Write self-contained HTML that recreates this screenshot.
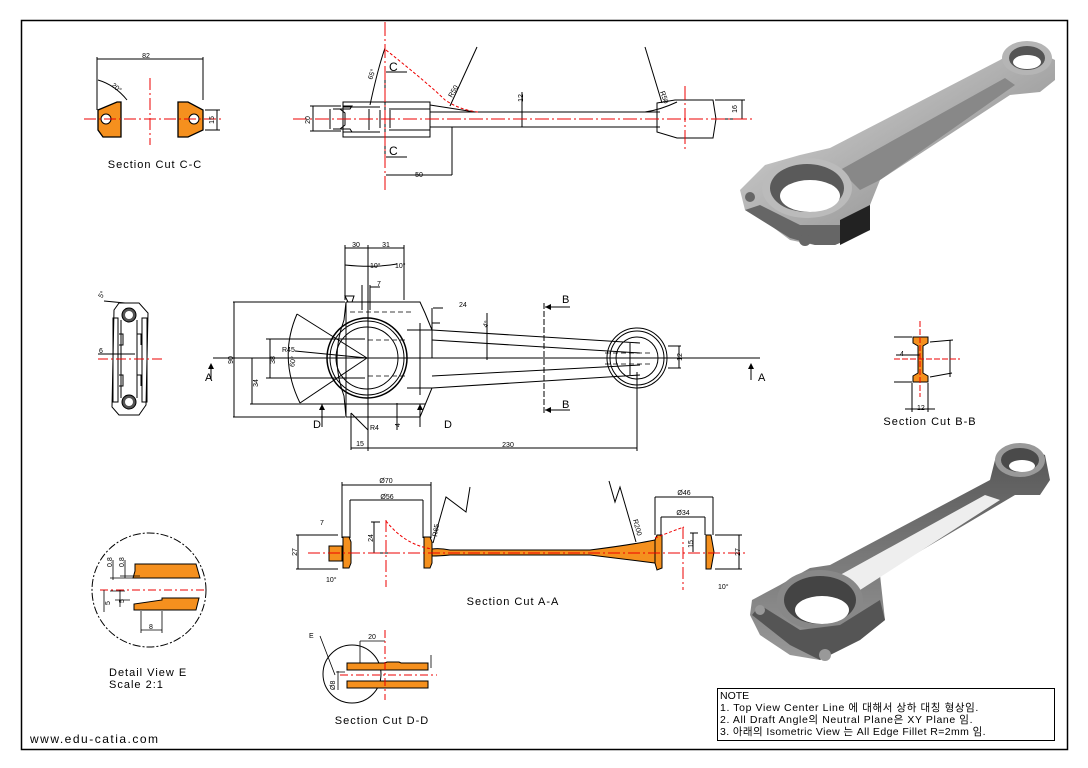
<!DOCTYPE html>
<html><head><meta charset="utf-8"><style>
body{margin:0;background:#fff}
svg{display:block}
text{font-family:"Liberation Sans","Noto Sans CJK KR",sans-serif}
</style></head><body>
<svg width="1088" height="768" viewBox="0 0 1088 768" xmlns="http://www.w3.org/2000/svg">
<defs>
<linearGradient id="g1" x1="0" y1="0" x2="1" y2="1"><stop offset="0" stop-color="#e2e2e2"/><stop offset="1" stop-color="#7a7a7a"/></linearGradient>
<linearGradient id="g2" x1="0" y1="0" x2="0" y2="1"><stop offset="0" stop-color="#555"/><stop offset="1" stop-color="#999"/></linearGradient>
</defs>
<rect x="0" y="0" width="1088" height="768" fill="#fff"/>
<rect x="21.5" y="20.5" width="1046" height="729" fill="none" stroke="#000" stroke-width="1.5"/>

<g stroke="#000" stroke-width="1" fill="none">
<line x1="97" y1="57" x2="97" y2="110"/><line x1="203" y1="57" x2="203" y2="100"/>
<line x1="97" y1="59" x2="203" y2="59"/>
<path d="M98 80 Q115 85 127 100"/>
<line x1="205" y1="110" x2="220" y2="110"/><line x1="205" y1="130" x2="220" y2="130"/><line x1="217" y1="110" x2="217" y2="130"/>
<path d="M98 110 L117 102 L121 102 L121 137 L103 137 L98 130 Z" fill="#f5901e" stroke-width="1.3"/>
<path d="M178 102 L188 102 L203 110 L203 130 L188 137 L178 137 Z" fill="#f5901e" stroke-width="1.3"/>
<circle cx="106" cy="119" r="5" fill="#fff"/><circle cx="194" cy="119" r="5" fill="#fff"/>
</g>
<g stroke="#e00" stroke-width="1" stroke-dasharray="12,3,2,3">
<line x1="84" y1="119" x2="224" y2="119"/><line x1="150" y1="78" x2="150" y2="145"/>
</g>
<text x="146" y="58" font-size="7" text-anchor="middle">82</text>
<text x="111" y="86" font-size="7" transform="rotate(40 111 86)">20°</text>
<text x="214" y="120" font-size="7" transform="rotate(-90 214 120)" text-anchor="middle">15</text>
<text x="155" y="168" font-size="11" text-anchor="middle" letter-spacing="1">Section Cut C-C</text>

<g stroke="#000" stroke-width="1" fill="none">
<rect x="343" y="102" width="87" height="35"/>
<path d="M343 107 H380 M343 132 H380 M333 109 H350 L352 106 H343 M333 129 H350 L352 132"/>
<path d="M330 109 V129 M340 109 L345 113 L345 125 L340 129 M380 110 V128 M390 110 V128 M369 109 V130 M389 109 H430 M389 130 H430"/>
<path d="M430 112 Q445 112 478 112 L660 112 M430 127 Q445 127 478 127 L660 127"/>
<path d="M430 105 L475 112"/>
<path d="M657 103 L675 100 L713 100 L716 119 L713 138 L677 138 L657 132 Z"/>
<path d="M645 112 Q660 110 677 102"/>
<line x1="310" y1="106" x2="341" y2="106"/><line x1="310" y1="131" x2="341" y2="131"/><line x1="313" y1="106" x2="313" y2="131"/>
<line x1="385" y1="69" x2="385" y2="165"/>
<line x1="386" y1="72" x2="407" y2="72"/><line x1="386" y1="157" x2="407" y2="157"/>
<line x1="452" y1="127" x2="452" y2="175"/><line x1="386" y1="175" x2="452" y2="175"/>
<line x1="522" y1="92" x2="522" y2="127"/>
<path d="M370 105 Q378 68 385 48"/>
<line x1="450" y1="106" x2="477" y2="47"/>
<line x1="645" y1="47" x2="662" y2="103"/>
<line x1="715" y1="100" x2="745" y2="100"/><line x1="715" y1="119" x2="745" y2="119"/><line x1="742" y1="100" x2="742" y2="119"/>
</g>
<path d="M386 50 Q430 85 445 100 Q460 110 478 112" stroke="#e00" fill="none" stroke-dasharray="3,2"/>
<g stroke="#e00" stroke-width="1" stroke-dasharray="14,3,2,3">
<line x1="293" y1="119" x2="755" y2="119"/><line x1="385" y1="22" x2="385" y2="192"/><line x1="685" y1="86" x2="685" y2="150"/>
</g>
<text x="389" y="71" font-size="12">C</text><text x="389" y="155" font-size="12">C</text>
<text x="419" y="177" font-size="7" text-anchor="middle">50</text>
<text x="310" y="120" font-size="7" transform="rotate(-90 310 120)" text-anchor="middle">20</text>
<text x="523" y="98" font-size="7" transform="rotate(-90 523 98)" text-anchor="middle">12</text>
<text x="737" y="109" font-size="7" transform="rotate(-90 737 109)" text-anchor="middle">16</text>
<text x="372" y="80" font-size="7" transform="rotate(-70 372 80)">65°</text>
<text x="452" y="98" font-size="7" transform="rotate(-60 452 98)">R50</text>
<text x="660" y="92" font-size="7" transform="rotate(70 660 92)">R50</text>

<g stroke="#000" stroke-width="1" fill="none">
<path d="M348 302 L352 302 L354 296 L345 296 L348 302"/>
<path d="M346 302 H420 L425 313 L432 330 L407 330 M346 302 L344 320 Q330 358 344 396 L346 417 H420 L425 405 L432 388 L407 388"/>
<line x1="346" y1="302" x2="346" y2="417"/>
<circle cx="367" cy="358" r="40" stroke-width="1.5"/>
<circle cx="367" cy="358" r="37"/>
<circle cx="367" cy="358" r="31"/>
<path d="M432 330 L640 343 M432 340 L640 353 M432 376 L640 365 M432 388 L640 375"/>
<path d="M432 323 L440 323 M630 343 V375 M420 323 V395"/>
<circle cx="637" cy="358" r="30"/><circle cx="637" cy="358" r="27"/><circle cx="637" cy="358" r="21"/>
<line x1="345" y1="245" x2="345" y2="300"/><line x1="368" y1="245" x2="368" y2="300"/><line x1="404" y1="245" x2="404" y2="300"/>
<line x1="345" y1="248" x2="404" y2="248"/>
<path d="M345 265 Q375 268 397 264"/>
<line x1="362" y1="285" x2="362" y2="310"/><line x1="370" y1="285" x2="370" y2="310"/><line x1="370" y1="287" x2="380" y2="287"/>
<line x1="433" y1="308" x2="443" y2="308"/><line x1="432" y1="308" x2="432" y2="358"/>
<line x1="233" y1="302" x2="345" y2="302"/><line x1="233" y1="417" x2="345" y2="417"/><line x1="234" y1="302" x2="234" y2="417"/>
<line x1="266" y1="339" x2="365" y2="339"/><line x1="266" y1="378" x2="365" y2="378"/><line x1="270" y1="339" x2="270" y2="378"/>
<line x1="250" y1="404" x2="425" y2="404"/><line x1="252" y1="358" x2="252" y2="404"/>
<path d="M297 314 Q278 358 300 403"/>
<line x1="297" y1="314" x2="367" y2="358"/><line x1="300" y1="403" x2="367" y2="358"/>
<line x1="295" y1="351" x2="367" y2="358"/>
<line x1="351" y1="413" x2="368" y2="430"/><line x1="351" y1="413" x2="351" y2="450"/>
<line x1="351" y1="448" x2="637" y2="448"/><line x1="637" y1="372" x2="637" y2="451"/><line x1="368" y1="300" x2="368" y2="451"/>
<line x1="397" y1="403" x2="397" y2="430"/>
<line x1="487" y1="313" x2="487" y2="360"/>
<line x1="679" y1="346" x2="679" y2="368"/><line x1="668" y1="346" x2="681" y2="346"/><line x1="668" y1="368" x2="681" y2="368"/>
<path d="M544 303 V415" stroke-dasharray="6,2"/>
<path d="M545 307 H570 M545 410 H570 M322 404 V427 M420 404 V427 M211 380 V364 M751 380 V364"/>
</g>
<g stroke="#000" stroke-width="0.8" stroke-dasharray="5,3" fill="none"><path d="M350 312 H412 M350 404 H412 M368 340 H407 M368 376 H407 M605 353 H650 M605 364 H650"/></g>
<line x1="213" y1="358" x2="760" y2="358" stroke="#000" stroke-width="1"/>
<path d="M211 363 l-3 6 h6 z M751 363 l-3 6 h6 z M322 404 l-3 6 h6 z M420 404 l-3 6 h6 z M545 307 l6 -3 v6 z M545 410 l6 -3 v6 z"/>
<text x="205" y="381" font-size="11">A</text><text x="758" y="381" font-size="11">A</text>
<text x="562" y="303" font-size="11">B</text><text x="562" y="408" font-size="11">B</text>
<text x="313" y="428" font-size="11">D</text><text x="444" y="428" font-size="11">D</text>
<text x="356" y="247" font-size="7" text-anchor="middle">30</text><text x="386" y="247" font-size="7" text-anchor="middle">31</text>
<text x="370" y="268" font-size="7">10°</text><text x="395" y="268" font-size="7">10°</text>
<text x="377" y="286" font-size="7">7</text><text x="459" y="307" font-size="7">24</text>
<text x="282" y="352" font-size="7">R45</text><text x="487" y="328" font-size="7" transform="rotate(-70 487 328)">4°</text>
<text x="233" y="360" font-size="7" transform="rotate(-90 233 360)" text-anchor="middle">90</text>
<text x="275" y="360" font-size="7" transform="rotate(-90 275 360)" text-anchor="middle">38</text>
<text x="258" y="383" font-size="7" transform="rotate(-90 258 383)" text-anchor="middle">34</text>
<text x="295" y="362" font-size="7" transform="rotate(-80 295 362)" text-anchor="middle">60°</text>
<text x="360" y="446" font-size="7" text-anchor="middle">15</text><text x="508" y="447" font-size="7" text-anchor="middle">230</text>
<text x="370" y="430" font-size="7">R4</text><text x="400" y="427" font-size="7" transform="rotate(-90 400 427)">4</text>
<text x="682" y="357" font-size="7" transform="rotate(-90 682 357)" text-anchor="middle">12</text>

<g stroke="#000" stroke-width="1" fill="none">
<path d="M119 303 H139 L148 313 L146 405 L139 415 H119 L112 407 L114 310 Z"/>
<rect x="113" y="318" width="5" height="84"/><rect x="142" y="318" width="5" height="84"/>
<path d="M121 320 V398 M137 320 V398 M119 334 H123 V345 H119 M137 334 H141 V345 M119 375 H123 V386 H119 M137 375 H141 V386"/>
<line x1="98" y1="354" x2="135" y2="354"/>
<line x1="104" y1="301" x2="125" y2="303"/>
</g>
<circle cx="129" cy="315" r="7" fill="#555" stroke="#000"/><circle cx="129" cy="315" r="4" fill="#fff"/>
<circle cx="129" cy="402" r="7" fill="#555" stroke="#000"/><circle cx="129" cy="402" r="4" fill="#fff"/>
<line x1="98" y1="359" x2="162" y2="359" stroke="#e00" stroke-dasharray="10,3,2,3"/>
<text x="99" y="353" font-size="7">6</text><text x="100" y="295" font-size="7" transform="rotate(-60 104 295)">5°</text>

<g stroke="#000" stroke-width="1">
<path d="M913 337 H928 V343 L923 346 V373 L928 376 V382 H913 V376 L918 373 V346 L913 343 Z" fill="#f5901e"/>
<path d="M894 337 H912 M894 382 H912 M896 355 H920 M912 383 V412 M928 383 V412 M905 409 H935 M930 342 L953 340 M930 377 L952 373 M950 340 V377" fill="none"/>
</g>
<g stroke="#e00" stroke-dasharray="6,2"><line x1="920" y1="321" x2="920" y2="397"/><line x1="894" y1="359" x2="960" y2="359"/></g>
<text x="900" y="356" font-size="7">4</text><text x="917" y="410" font-size="7">12</text>
<text x="930" y="425" font-size="11" text-anchor="middle" letter-spacing="1">Section Cut B-B</text>

<g stroke="#000" stroke-width="1" fill="none">
<line x1="342" y1="482" x2="342" y2="538"/><line x1="431" y1="482" x2="431" y2="538"/><line x1="342" y1="485" x2="431" y2="485"/>
<line x1="350" y1="500" x2="350" y2="538"/><line x1="423" y1="500" x2="423" y2="538"/><line x1="350" y1="500" x2="423" y2="500"/>
<line x1="655" y1="497" x2="655" y2="535"/><line x1="713" y1="497" x2="713" y2="535"/><line x1="655" y1="497" x2="713" y2="497"/>
<line x1="661" y1="517" x2="661" y2="535"/><line x1="705" y1="517" x2="705" y2="535"/><line x1="661" y1="517" x2="705" y2="517"/>
<line x1="296" y1="535" x2="338" y2="535"/><line x1="296" y1="569" x2="338" y2="569"/><line x1="298" y1="535" x2="298" y2="569"/>
<line x1="371" y1="522" x2="380" y2="522"/><line x1="374" y1="522" x2="374" y2="553"/><line x1="371" y1="553" x2="400" y2="553"/>
<path d="M433 543 L446 497 L466 512 L470 487"/>
<path d="M636 542 L620 487 L615 502 L609 481"/>
<line x1="690" y1="533" x2="698" y2="533"/><line x1="693" y1="533" x2="693" y2="552"/>
<line x1="715" y1="535" x2="742" y2="535"/><line x1="715" y1="569" x2="742" y2="569"/><line x1="739" y1="535" x2="739" y2="569"/>
</g>
<g stroke="#000" stroke-width="1" fill="#f5901e">
<rect x="329" y="546" width="13" height="15"/>
<path d="M343 537 H349 L351 542 V563 L349 568 H343 Z"/>
<path d="M424 537 H430 L432 542 V563 L430 568 H424 Z"/>
<path d="M432 549 Q440 548 450 550 H590 Q630 545 655 540 L655 563 Q630 560 590 555 H450 Q440 556 432 556 Z"/>
<path d="M657 535 H662 V568 L657 570 L655 563 V540 Z"/>
<path d="M706 535 H711 L714 552 L711 569 H706 Z"/>
</g>
<path d="M386 521 Q405 545 432 549 M655 538 Q675 530 684 527" stroke="#e00" fill="none" stroke-dasharray="3,2"/>
<g stroke="#e00" stroke-dasharray="12,3,2,3"><line x1="308" y1="553" x2="745" y2="553"/><line x1="386" y1="520" x2="386" y2="587"/><line x1="683" y1="527" x2="683" y2="590"/></g>
<text x="386" y="483" font-size="7" text-anchor="middle">Ø70</text><text x="387" y="499" font-size="7" text-anchor="middle">Ø56</text>
<text x="684" y="495" font-size="7" text-anchor="middle">Ø46</text><text x="683" y="515" font-size="7" text-anchor="middle">Ø34</text>
<text x="297" y="552" font-size="7" transform="rotate(-90 297 552)" text-anchor="middle">27</text>
<text x="373" y="538" font-size="7" transform="rotate(-90 373 538)" text-anchor="middle">24</text>
<text x="693" y="544" font-size="7" transform="rotate(-90 693 544)" text-anchor="middle">15</text>
<text x="740" y="552" font-size="7" transform="rotate(-90 740 552)" text-anchor="middle">27</text>
<text x="437" y="537" font-size="7" transform="rotate(-80 437 537)">R65</text>
<text x="633" y="520" font-size="7" transform="rotate(75 633 520)">R200</text>
<text x="320" y="525" font-size="7">7</text><text x="326" y="582" font-size="7">10°</text><text x="718" y="589" font-size="7">10°</text>
<text x="513" y="605" font-size="11" text-anchor="middle" letter-spacing="1">Section Cut A-A</text>

<circle cx="149" cy="590" r="57" fill="none" stroke="#000" stroke-dasharray="8,2,2,2"/>
<g stroke="#000" stroke-width="1" fill="#f5901e">
<path d="M135 564 H196 L200 578 H133 L135 571 Z"/>
<path d="M134 610 H196 L199 598 H162 V600 L134 604 Z"/>
</g>
<line x1="100" y1="590" x2="207" y2="590" stroke="#e00" stroke-dasharray="8,3,2,3"/>
<g stroke="#000" stroke-width="0.8" fill="none">
<path d="M110 578 H150 M120 576 H140 M110 591 H125 M115 600 H130 M141 611 V633 M162 611 V633 M141 630 H162 M113 560 V580 M125 560 V578 M104 590 V612 M120 590 V607"/>
</g>
<text x="112" y="567" font-size="7" transform="rotate(-90 112 567)">0.8</text>
<text x="124" y="567" font-size="7" transform="rotate(-90 124 567)">0.8</text>
<text x="110" y="605" font-size="7" transform="rotate(-90 110 605)">5</text>
<text x="124" y="603" font-size="7" transform="rotate(-90 124 603)">5</text>
<text x="151" y="629" font-size="7" text-anchor="middle">8</text>
<text x="109" y="676" font-size="11" letter-spacing="1">Detail View E</text>
<text x="109" y="688" font-size="11" letter-spacing="1">Scale 2:1</text>

<circle cx="352" cy="674" r="29" fill="none" stroke="#000"/>
<g stroke="#000" stroke-width="1" fill="#f5901e">
<path d="M347 663 H385 L387 662 H399 L401 663 H428 V670 H347 Z"/>
<path d="M347 681 H428 V688 H347 Z"/>
</g>
<g stroke="#000" stroke-width="0.8" fill="none">
<path d="M360 641 V663 M360 641 H385 M338 671 V690 M336 672 H345 M335 675 L320 636 M431 655 V668"/>
</g>
<g stroke="#e00" stroke-dasharray="8,3,2,3"><line x1="340" y1="675" x2="437" y2="675"/><line x1="385" y1="630" x2="385" y2="700"/></g>
<text x="372" y="639" font-size="7" text-anchor="middle">20</text>
<text x="309" y="638" font-size="7">E</text>
<text x="335" y="690" font-size="7" transform="rotate(-90 335 690)">Ø8</text>
<text x="382" y="724" font-size="11" text-anchor="middle" letter-spacing="1">Section Cut D-D</text>

<text x="30" y="743" font-size="12" letter-spacing="1.5">www.edu-catia.com</text>

<rect x="717.5" y="688.5" width="337" height="52" fill="#fff" stroke="#000"/>
<text x="720" y="699" font-size="10.5">NOTE</text>
<text x="720" y="711" font-size="10.5" letter-spacing="0.6">1. Top View Center Line 에 대해서 상하 대칭 형상임.</text>
<text x="720" y="723" font-size="10.5" letter-spacing="0.6">2. All Draft Angle의 Neutral Plane은 XY Plane 임.</text>
<text x="720" y="735" font-size="10.5" letter-spacing="0.4">3. 아래의 Isometric View 는 All Edge Fillet R=2mm 임.</text>

<g>
<path d="M740 190 L765 165 L800 155 L830 148 L1000 60 L1025 45 L1055 60 L1055 80 L1040 92 L1010 95 L880 180 L870 205 L870 230 L835 245 L815 245 L790 240 L770 225 L745 210 Z" fill="url(#g1)"/>
<path d="M840 170 L1005 78 L1015 85 L880 180 L860 190 Z" fill="#888"/>
<ellipse cx="1027" cy="58" rx="25" ry="17" fill="#b5b5b5"/>
<ellipse cx="1027" cy="58" rx="18" ry="12" fill="#555"/>
<ellipse cx="1027" cy="62" rx="14" ry="7" fill="#fff"/>
<ellipse cx="807" cy="188" rx="45" ry="30" fill="#bbb"/>
<ellipse cx="807" cy="188" rx="37" ry="24" fill="#5a5a5a"/>
<ellipse cx="810" cy="196" rx="30" ry="16" fill="#fff"/>
<path d="M745 210 L790 238 L815 245 L835 245 L870 230 L870 210 L840 225 L800 225 L760 205 Z" fill="#666"/>
<path d="M840 220 L870 205 L870 230 L840 245 Z" fill="#222"/>
<circle cx="750" cy="197" r="5" fill="#666"/><circle cx="805" cy="240" r="6" fill="#666"/>
</g>

<g>
<path d="M752 600 L780 585 L810 568 L830 565 L990 480 L995 460 L1020 445 L1045 455 L1050 480 L1040 495 L1015 495 L880 575 L885 620 L860 640 L820 660 L790 655 L760 635 L750 615 Z" fill="url(#g2)"/>
<path d="M840 575 L985 495 L1000 500 L860 590 L835 592 Z" fill="#eee"/>
<ellipse cx="1020" cy="460" rx="25" ry="17" fill="#999"/>
<ellipse cx="1020" cy="460" rx="19" ry="12" fill="#4a4a4a"/>
<ellipse cx="1022" cy="466" rx="13" ry="6" fill="#fff"/>
<ellipse cx="820" cy="600" rx="43" ry="30" fill="#888"/>
<ellipse cx="820" cy="600" rx="36" ry="24" fill="#444"/>
<ellipse cx="822" cy="610" rx="27" ry="14" fill="#fff"/>
<path d="M752 615 L790 645 L820 660 L860 640 L885 620 L880 600 L840 625 L800 630 L760 605 Z" fill="#555"/>
<circle cx="760" cy="610" r="5" fill="#999"/><circle cx="825" cy="655" r="6" fill="#999"/>
</g>
</svg>
</body></html>
